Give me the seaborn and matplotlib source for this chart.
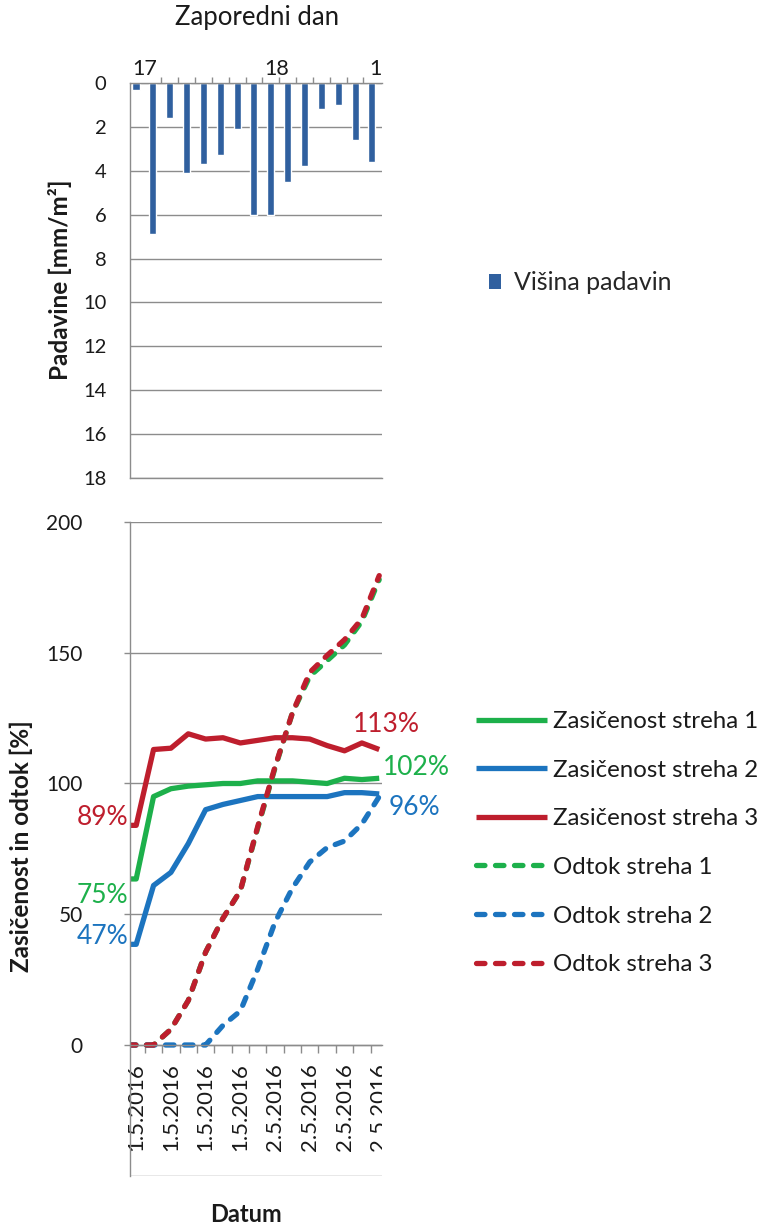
import matplotlib
matplotlib.use("Agg")
import matplotlib.pyplot as plt
import seaborn as sns
import pandas as pd
from matplotlib.patches import Patch
from matplotlib.lines import Line2D
from matplotlib.transforms import Bbox, TransformedBbox

# ---- data -------------------------------------------------------------
# hours since the start of 1.5.2016; rainfall is summed in 3-hour steps
rain_hours = [1.5, 4.5, 7.5, 10.5, 13.5, 16.5, 19.5, 22.5, 25.5, 28.5,
              31.5, 34.5, 37.5, 40.5, 43.5]
rain_mm = [0.3, 6.9, 1.6, 4.1, 3.7, 3.3, 2.1, 6.0, 6.0, 4.5, 3.8, 1.2, 1.0, 2.6, 3.6]

line_hours = [0.0] + rain_hours
sat_roof1 = [63.5, 63.5, 95, 98, 99, 99.5, 100, 100, 101, 101, 101, 100.5, 100, 102, 101.5, 102]
sat_roof2 = [38.5, 38.5, 61, 66, 77, 90, 92, 93.5, 95, 95, 95, 95, 95, 96.5, 96.5, 96]
sat_roof3 = [84, 84, 113, 113.5, 119, 117, 117.5, 115.5, 116.5, 117.5, 117.5, 117, 114.5, 112.5, 115.5, 113]
run_roof1 = [0, 0, 0, 6, 17, 35.5, 48.5, 59, 83, 106, 127, 141, 147, 153, 162, 178]
run_roof2 = [0, 0, 0, 0, 0, 0, 7.5, 13, 29, 47, 60, 70, 75.5, 78, 84.5, 95]
run_roof3 = [0, 0, 0, 6, 17, 35.5, 48.5, 59, 83.5, 106.5, 127, 142.5, 149, 155, 163, 179.5]

start_labels = ["75%", "47%", "89%"]          # initial saturation of roofs 1-3

day_numbers = ["17", "18", "19"]
day_hours = [3.0, 26.5, 45.3]

date_labels = ["1.5.2016", "1.5.2016", "1.5.2016", "1.5.2016",
               "2.5.2016", "2.5.2016", "2.5.2016", "2.5.2016"]
date_hours = [1.5, 7.5, 13.5, 19.5, 25.5, 31.5, 37.5, 43.5]

# ---- style ------------------------------------------------------------
sns.set_theme(style="white")
plt.rcParams["font.family"] = ["Lato", "DejaVu Sans"]
GRID = "#8C8C8C"
TEXT = "#1a1a1a"
BAR = "#30609F"
GREEN, BLUE, RED = "#1DB04B", "#1C74BF", "#BE1E2D"
DASH = (0, (1.6, 2.0))
LW = 3.8

W, H = 765, 1226
fig = plt.figure(figsize=(W / 100, H / 100), dpi=100)


def fx(px):
    return px / W


def fy(py):
    return 1 - py / H


XLIM = (0.43, 43.98)
right_clip = TransformedBbox(Bbox.from_extents(0, 0, fx(382), 1), fig.transFigure)

# ---- precipitation panel ---------------------------------------------
ax1 = fig.add_axes([fx(130), fy(478), fx(382) - fx(130), fy(83) - fy(478)])
rain = pd.DataFrame({"hour": rain_hours, "mm": rain_mm})
sns.barplot(data=rain, x="hour", y="mm", native_scale=True, orient="x",
            width=0.42, color=BAR, saturation=1, ax=ax1)
ax1.set_xlim(*XLIM)
ax1.set_ylim(18, 0)
ax1.set_yticks(range(0, 19, 2))
ax1.set_yticklabels([str(v) for v in range(0, 19, 2)], fontsize=14.5)
ax1.yaxis.grid(True, color=GRID, lw=1)
ax1.set_axisbelow(True)
ax1.xaxis.set_ticks_position("top")
ax1.xaxis.set_label_position("top")
ax1.set_xticks(day_hours)
ax1.set_xticklabels(day_numbers, fontsize=15.5)
ax1.set_xticks(range(3, 44, 3), minor=True)
ax1.tick_params(axis="x", which="major", length=0, pad=3, colors=TEXT)
ax1.tick_params(axis="x", which="minor", length=4, width=1, color=GRID, top=True)
ax1.tick_params(axis="y", length=0, pad=17, colors=TEXT)
for lab in ax1.get_xticklabels():
    lab.set_clip_box(right_clip)
    lab.set_clip_on(True)
ax1.spines["right"].set_visible(False)
for side in ("left", "top", "bottom"):
    ax1.spines[side].set_color(GRID)
    ax1.spines[side].set_linewidth(1)
ax1.set_xlabel("")
ax1.set_ylabel("")
fig.text(fx(257), fy(18), "Zaporedni dan", fontsize=18.5, ha="center", va="center",
         color=TEXT)
fig.text(fx(60), fy(280), "Padavine [mm/m²]", fontsize=17.5, fontweight="bold",
         rotation=90, ha="center", va="center", color=TEXT)
ax1.legend(handles=[Patch(facecolor=BAR, edgecolor="none", label="Višina padavin")],
           loc="center left", bbox_to_anchor=(fx(489), fy(283)),
           bbox_transform=fig.transFigure, frameon=False, fontsize=18,
           handlelength=0.5, handleheight=0.5, handletextpad=0.5,
           borderpad=0, borderaxespad=0)

# ---- saturation / runoff panel -----------------------------------------
ax2 = fig.add_axes([fx(130), fy(1175.75), fx(382) - fx(130), fy(522) - fy(1175.75)])
series = [
    ("Zasičenost streha 1", sat_roof1, GREEN, False),
    ("Zasičenost streha 2", sat_roof2, BLUE, False),
    ("Zasičenost streha 3", sat_roof3, RED, False),
    ("Odtok streha 1", run_roof1, GREEN, True),
    ("Odtok streha 2", run_roof2, BLUE, True),
    ("Odtok streha 3", run_roof3, RED, True),
]
handles = []
for name, vals, col, dashed in series:
    df = pd.DataFrame({"hour": line_hours, "value": vals})
    kw = dict(color=col, lw=LW, solid_joinstyle="round", solid_capstyle="butt")
    if dashed:
        kw.update(linestyle=DASH, dash_capstyle="round")
    sns.lineplot(data=df, x="hour", y="value", ax=ax2, **kw)
    handles.append(Line2D([], [], label=name, **kw))

ax2.set_xlim(*XLIM)
ax2.set_ylim(-50, 200)
ax2.set_yticks([0, 50, 100, 150, 200])
ax2.set_yticklabels(["0", "50", "100", "150", "200"], fontsize=15)
ax2.yaxis.grid(True, color=GRID, lw=1)
ax2.axhline(-50, color=GRID, lw=1)
ax2.set_axisbelow(True)
ax2.spines["right"].set_visible(False)
ax2.spines["top"].set_visible(False)
ax2.spines["bottom"].set_position(("data", 0))
for side in ("left", "bottom"):
    ax2.spines[side].set_color(GRID)
    ax2.spines[side].set_linewidth(1)
ax2.set_xticks(date_hours)
ax2.set_xticklabels(date_labels, rotation=90, fontsize=16)
ax2.set_xticks(range(3, 44, 3), minor=True)
ax2.tick_params(axis="x", which="major", length=0, pad=13, colors=TEXT)
ax2.tick_params(axis="x", which="minor", length=6, width=1, color=GRID, bottom=True)
ax2.tick_params(axis="y", length=4, width=1, color=GRID, left=True, pad=30,
                labelcolor=TEXT)
for lab in ax2.get_xticklabels():
    lab.set_clip_box(right_clip)
    lab.set_clip_on(True)
ax2.set_xlabel("")
ax2.set_ylabel("")

# value labels at both ends of the saturation curves
start_offsets = [(-2, -17), (-2, 8), (-2, 8)]
sat_series = [(sat_roof1, GREEN), (sat_roof2, BLUE), (sat_roof3, RED)]
for (vals, col), txt, (dx, dy) in zip(sat_series, start_labels, start_offsets):
    ax2.annotate(txt, xy=(XLIM[0], vals[0]), xytext=(dx, dy), textcoords="offset pixels",
                 ha="right", va="center", color=col, fontsize=19, annotation_clip=False)
end_offsets = [(4, 11), (9, -14), (-26, 25)]
for (vals, col), (dx, dy) in zip(sat_series, end_offsets):
    ax2.annotate(f"{vals[-1]:.0f}%", xy=(line_hours[-1], vals[-1]), xytext=(dx, dy),
                 textcoords="offset pixels", ha="left", va="center", color=col,
                 fontsize=19, annotation_clip=False)

fig.text(fx(21), fy(846), "Zasičenost in odtok [%]", fontsize=17.5, fontweight="bold",
         rotation=90, ha="center", va="center", color=TEXT)
fig.text(fx(246), fy(1215), "Datum", fontsize=17, fontweight="bold",
         ha="center", va="center", color=TEXT)

leg = ax2.legend(handles=handles, loc="upper left", bbox_to_anchor=(fx(476), fy(711)),
                 bbox_transform=fig.transFigure, frameon=False, fontsize=17.3,
                 handlelength=2.95, handletextpad=0.25, labelspacing=1.15,
                 borderpad=0, borderaxespad=0)
for t in leg.get_texts():
    t.set_color(TEXT)

fig.savefig("out.png", dpi=100, facecolor="white")
